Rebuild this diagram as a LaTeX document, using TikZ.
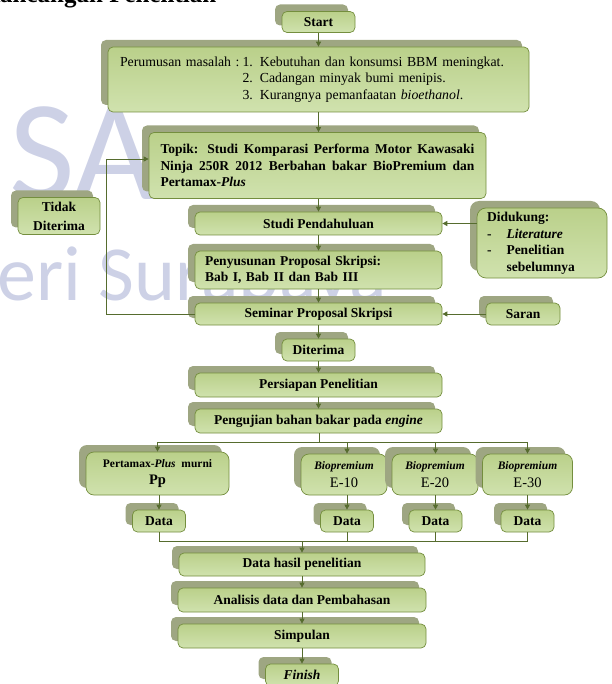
\documentclass[tikz,border=0pt]{standalone}
\usepackage{fontspec}
\setmainfont{Liberation Serif}
\newfontfamily\wmfont{Carlito}
\usetikzlibrary{arrows.meta,shadows}

\definecolor{gtop}{RGB}{186,208,138}
\definecolor{gmid}{RGB}{156,188,94}
\definecolor{gbot}{RGB}{208,226,174}
\definecolor{boxline}{RGB}{116,142,62}
\definecolor{shadowgrey}{RGB}{158,166,130}
\definecolor{linkgreen}{RGB}{86,108,46}
\definecolor{wmblue}{RGB}{205,209,230}

\tikzset{
    stepbox/.style = {draw = boxline, line width = 0.7pt, rounded corners = 5pt,
        top color = gtop, middle color = gmid, bottom color = gbot,
        general shadow = {fill = shadowgrey, shadow xshift = -7pt, shadow yshift = 7pt},
        font = \bfseries\fontsize{13.5}{16.5}\selectfont, inner sep = 0pt, align = center},
    link/.style = {draw = linkgreen, line width = 0.8pt, -{Triangle[length = 5pt, width = 5pt]}},
    plain/.style = {draw = linkgreen, line width = 0.8pt},
    wm/.style = {text = wmblue, inner sep = 0pt, anchor = base west}
}

\begin{document}
\begin{tikzpicture}[x = 1pt, y = -1pt]
    \useasboundingbox (0,0) rectangle (611,684);
    % watermark and heading
    \node[wm, font = \wmfont\fontsize{143}{143}\selectfont] (wmtop) at (9,200) {SA};
    \node[wm, font = \wmfont\fontsize{78}{78}\selectfont] (wmbottom) at (-3,300) {eri Surabaya};
    \node[anchor = base west, inner sep = 0pt, font = \bfseries\fontsize{25}{30}\selectfont] (heading) at (-18,3) {Rancangan Penelitian};

    % main column
    \node[stepbox, font = \rmfamily\mdseries\fontsize{13.8}{16.5}\selectfont, text width = 397, inner xsep = 12,
        minimum height = 65, align = left] (problem) at (318.5,79.5)
        {\begin{tabular}{@{}l@{\hspace{3pt}}l@{}}
            Perumusan masalah : & 1. Kebutuhan dan konsumsi BBM meningkat.\\
            & 2. Cadangan minyak bumi menipis.\\
            & 3. Kurangnya pemanfaatan \textit{bioethanol}.
        \end{tabular}};
    \node[stepbox, minimum width = 73, minimum height = 21] (start) at (318.5,22) {Start};
    \node[stepbox, text width = 314, inner xsep = 11.5, minimum height = 66, align = justify] (topic) at (317.5,165.5)
        {Topik: Studi Komparasi Performa Motor Kawasaki\linebreak
         Ninja 250R 2012 Berbahan bakar BioPremium dan\linebreak
         Pertamax-\textit{Plus}};
    \node[stepbox, font = \bfseries\fontsize{13.5}{19}\selectfont, minimum width = 82, minimum height = 37] (reject) at (59,216) {Tidak\\Diterima};
    \node[stepbox, minimum width = 247, minimum height = 23] (prelim) at (318.5,223.5) {Studi Pendahuluan};
    \node[stepbox, text width = 110, inner xsep = 10, minimum height = 70, align = left, rounded corners = 9pt] (support) at (542,243)
        {\begin{tabular}{@{}l@{\hspace{15pt}}l@{}}
            \multicolumn{2}{@{}l}{Didukung:}\\
            - & \textit{Literature}\\
            - & Penelitian\\
              & sebelumnya
        \end{tabular}};
    \node[stepbox, text width = 227, inner xsep = 10, minimum height = 38, align = left] (draft) at (318.5,270)
        {Penyusunan Proposal Skripsi:\\Bab I, Bab II dan Bab III};
    \node[stepbox, minimum width = 247, minimum height = 22] (seminar) at (318.5,314) {Seminar Proposal Skripsi};
    \node[stepbox, minimum width = 74, minimum height = 22] (advice) at (523,314) {Saran};
    \node[stepbox, minimum width = 73, minimum height = 22] (accept) at (318.5,350) {Diterima};
    \node[stepbox, minimum width = 247, minimum height = 24] (prep) at (318.5,385) {Persiapan Penelitian};
    \node[stepbox, minimum width = 247, minimum height = 24] (test) at (318.5,421) {Pengujian bahan bakar pada \textit{engine}};

    % fuel columns
    \node[stepbox, minimum width = 143, minimum height = 43, rounded corners = 8pt] (fuel1) at (157.5,473.5)
        {{\fontsize{11.5}{13}\selectfont Pertamax-\textit{Plus}\ \ murni}\\[1pt]{\fontsize{14.5}{16}\selectfont Pp}};
    \foreach \n/\x/\w/\e in {2/344/86/10, 3/435/86/20, 4/527.5/90/30}
        \node[stepbox, minimum width = \w, minimum height = 41, rounded corners = 8pt] (fuel\n) at (\x,474.5)
            {{\fontsize{11.5}{13}\selectfont\itshape Biopremium}\\[1pt]{\fontsize{14.5}{16}\selectfont\mdseries E-\e}};
    \foreach \n/\x in {1/159, 2/347, 3/435.5, 4/527.5}
        \node[stepbox, minimum width = 53, minimum height = 22] (data\n) at (\x,521) {Data};

    % closing column
    \node[stepbox, minimum width = 246, minimum height = 23] (result) at (302,564.5) {Data hasil penelitian};
    \node[stepbox, minimum width = 248, minimum height = 24] (analysis) at (302,600) {Analisis data dan Pembahasan};
    \node[stepbox, minimum width = 248, minimum height = 24] (conclusion) at (302,636) {Simpulan};
    \node[stepbox, minimum width = 73, minimum height = 22] (finish) at (302,675) {\textit{Finish}};

    % connectors
    \draw[link] (start) -- (problem);
    \draw[link] (problem.south) -- (problem.south |- topic.north);
    \draw[link] (topic.south -| prelim) -- (prelim.north);
    \draw[link] (prelim) -- (draft);
    \draw[link] (draft) -- (seminar);
    \draw[link] (seminar) -- (accept);
    \draw[link] (accept) -- (prep);
    \draw[link] (prep) -- (test);
    \draw[link] (support.west |- prelim) -- (prelim.east);
    \draw[link] (advice) -- (seminar);
    \coordinate (loop) at (106,159);
    \draw[link] (seminar.west) -| (loop) -- (loop -| topic.west);

    \coordinate (split) at (319,442);
    \coordinate (merge) at (302,541);
    \draw[plain] (test.south -| split) -- (split);
    \draw[plain] (fuel1 |- split) -- (data4 |- split);
    \draw[plain] (data1 |- merge) -- (data4 |- merge);
    \draw[link] (fuel1 |- split) -- (fuel1.north);
    \draw[link] (fuel1.south -| data1) -- (data1.north);
    \draw[plain] (data1.south) -- (data1 |- merge);
    \foreach \n in {2, 3, 4} {
        \draw[link] (data\n |- split) -- (data\n |- fuel\n.north);
        \draw[link] (data\n |- fuel\n.south) -- (data\n.north);
        \draw[plain] (data\n.south) -- (data\n |- merge);
    }
    \draw[link] (merge) -- (result.north);
    \draw[link] (result) -- (analysis);
    \draw[link] (analysis) -- (conclusion);
    \draw[link] (conclusion) -- (finish);
\end{tikzpicture}
\end{document}
